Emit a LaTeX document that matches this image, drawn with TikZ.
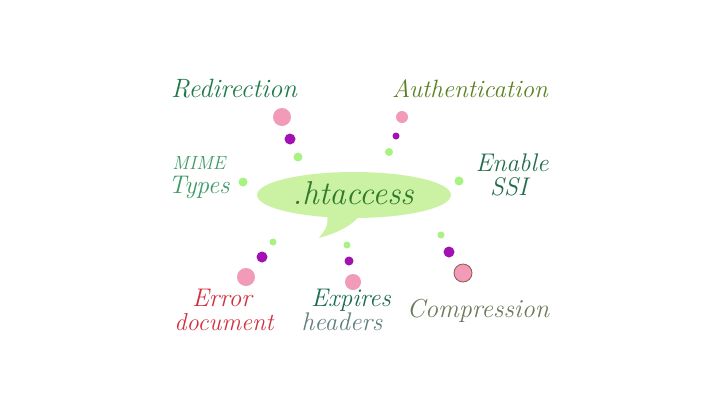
\documentclass[tikz,border=0pt]{standalone}
\usepackage{tikz}
\definecolor{bubblegreen}{HTML}{CBF2A2}
\definecolor{dotpink}{HTML}{F29BB8}
\definecolor{dotpurple}{HTML}{A212B2}
\definecolor{dotgreen}{HTML}{A8F282}
\definecolor{redirgreen}{HTML}{1F7A48}
\definecolor{authgreen}{HTML}{5B801F}
\definecolor{mimegreen}{HTML}{3E9A66}
\definecolor{ssigreen}{HTML}{236C4C}
\definecolor{htagreen}{HTML}{2F7A2C}
\definecolor{errred}{HTML}{D2303E}
\definecolor{expgreen}{HTML}{1E6B50}
\definecolor{headgrey}{HTML}{5F7F7D}
\definecolor{compgrey}{HTML}{6B7A5B}
\definecolor{ringbrown}{HTML}{8B5A4A}

\begin{document}
\begin{tikzpicture}[x=1pt,y=-1pt,
	lab/.style={inner sep=0pt,anchor=base,font=\fontsize{25.5}{25.5}\selectfont\itshape},
	pk/.style={fill=dotpink},
	pu/.style={fill=dotpurple},
	gr/.style={fill=dotgreen}]
	\useasboundingbox (0,0) rectangle (720,405);
	% speech bubble
	\fill[bubblegreen] (327,212) .. controls (328,226) .. (319,238) .. controls (340,232) and (355,224) .. (362,212) -- cycle;
	\fill[bubblegreen] (354,195) ellipse [x radius=97, y radius=23];
	\node[lab,text=htagreen,font=\fontsize{33}{33}\selectfont\itshape] (hta) at (353,204) {.htaccess};
	% labels
	\node[lab,text=redirgreen,font=\fontsize{26.5}{26.5}\selectfont\itshape] (redir) at (234,97) {Redirection};
	\node[lab,text=authgreen,font=\fontsize{25}{25}\selectfont\itshape] (auth) at (470,97) {Authentication};
	\node[lab,text=mimegreen,font=\fontsize{19}{19}\selectfont\itshape] (mime) at (199,169) {MIME};
	\node[lab,text=mimegreen] (types) at (199,193) {Types};
	\node[lab,text=ssigreen] (enable) at (512,171) {Enable};
	\node[lab,text=ssigreen] (ssi) at (509,195) {SSI};
	\node[lab,text=errred] (error) at (222,306) {Error};
	\node[lab,text=errred,font=\fontsize{24.5}{24.5}\selectfont\itshape] (errdoc) at (224,330) {document};
	\node[lab,text=expgreen] (expires) at (351,306) {Expires};
	\node[lab,text=headgrey] (headers) at (342,330) {headers};
	\node[lab,text=compgrey,font=\fontsize{26}{26}\selectfont\itshape] (comp) at (478,317) {Compression};
	% dot trails
	\fill[pk] (282,117) circle (9);
	\fill[pu] (290,139) circle (5.5);
	\fill[gr] (298,157) circle (4.5);
	\fill[pk] (402,117) circle (6);
	\fill[pu] (396,136) circle (3.5);
	\fill[gr] (389,152) circle (4);
	\fill[gr] (243,182) circle (4.5);
	\fill[gr] (459,181) circle (4.5);
	\fill[gr] (273,242) circle (3.5);
	\fill[pu] (262,257) circle (5.5);
	\fill[pk] (246,277) circle (9);
	\fill[gr] (347,245) circle (3.5);
	\fill[pu] (349,261) circle (4.5);
	\fill[pk] (353,282) circle (8);
	\fill[gr] (441,235) circle (3.5);
	\fill[pu] (449,252) circle (5.5);
	\draw[pk,draw=ringbrown,line width=0.8pt] (463,273) circle (9);
\end{tikzpicture}
\end{document}
